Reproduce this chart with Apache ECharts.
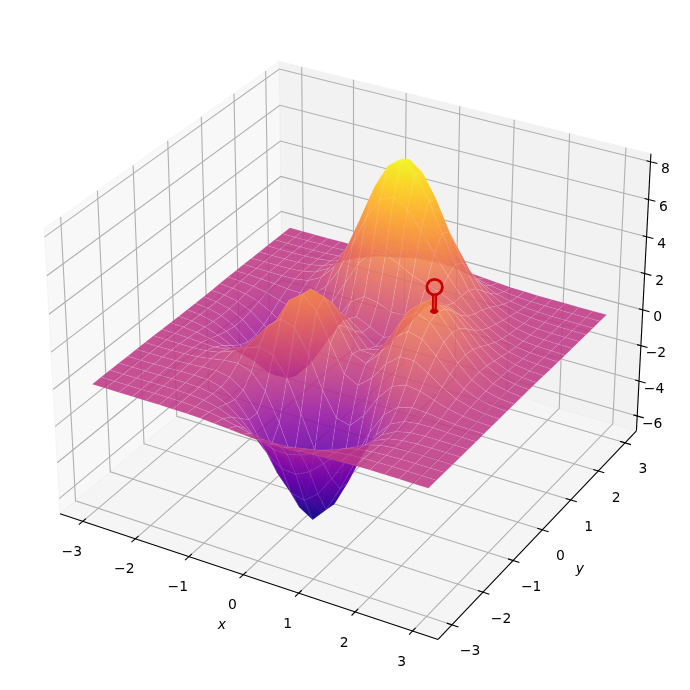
<!DOCTYPE html>
<html>
<head>
<meta charset="utf-8">
<style>html,body{margin:0;padding:0;background:#fff}#c{width:690px;height:690px}</style>
<script src="https://cdn.jsdelivr.net/npm/echarts@6/dist/echarts.min.js"></script>
</head>
<body>
<div id="c"></div>
<script>
// ---- data ----
const xGrid = [-3,-2.75,-2.5,-2.25,-2,-1.75,-1.5,-1.25,-1,-0.75,-0.5,-0.25,0,0.25,0.5,0.75,1,1.25,1.5,1.75,2,2.25,2.5,2.75,3];
const yGrid = [-3,-2.75,-2.5,-2.25,-2,-1.75,-1.5,-1.25,-1,-0.75,-0.5,-0.25,0,0.25,0.5,0.75,1,1.25,1.5,1.75,2,2.25,2.5,2.75,3];
// surface height, one row per x value, one column per y value
const zByX = [
[0,0,0,0,0,0,0,0,-0.01,-0.02,-0.03,-0.03,-0.04,-0.04,-0.03,-0.02,-0.01,-0.01,0,0,0,0,0,0,0],
[0,0,0,0,0,0,0,-0.01,-0.03,-0.05,-0.08,-0.10,-0.11,-0.11,-0.09,-0.07,-0.04,-0.02,-0.01,0,0,0,0,0,0],
[0,0,0,0.01,0.01,0.01,0.01,-0.01,-0.06,-0.12,-0.20,-0.27,-0.30,-0.29,-0.25,-0.18,-0.11,-0.06,-0.02,0,0.01,0.01,0,0,0],
[0,0,0.01,0.01,0.02,0.03,0.03,-0.01,-0.10,-0.26,-0.44,-0.60,-0.69,-0.67,-0.57,-0.42,-0.25,-0.12,-0.03,0.01,0.02,0.02,0.01,0.01,0],
[0,0.01,0.02,0.03,0.05,0.07,0.08,0.03,-0.13,-0.42,-0.80,-1.14,-1.33,-1.32,-1.12,-0.82,-0.48,-0.20,-0.01,0.07,0.08,0.06,0.03,0.01,0.01],
[0.01,0.01,0.02,0.04,0.07,0.13,0.19,0.17,-0.04,-0.51,-1.16,-1.78,-2.14,-2.16,-1.85,-1.33,-0.74,-0.23,0.11,0.24,0.23,0.16,0.08,0.04,0.01],
[0,0.01,0,0.01,0.05,0.15,0.33,0.45,0.30,-0.28,-1.21,-2.16,-2.77,-2.87,-2.49,-1.76,-0.86,-0.05,0.48,0.65,0.55,0.36,0.19,0.08,0.03],
[-0.01,-0.03,-0.07,-0.12,-0.13,0.02,0.39,0.84,0.99,0.50,-0.59,-1.84,-2.71,-2.98,-2.64,-1.78,-0.60,0.55,1.27,1.43,1.16,0.74,0.39,0.17,0.06],
[-0.03,-0.10,-0.24,-0.44,-0.59,-0.46,0.15,1.11,1.86,1.78,0.80,-0.56,-1.65,-2.15,-2.00,-1.16,0.23,1.70,2.61,2.67,2.10,1.32,0.69,0.30,0.11],
[-0.08,-0.22,-0.53,-1.00,-1.45,-1.48,-0.68,0.88,2.45,3.09,2.49,1.23,0.06,-0.65,-0.76,-0.05,1.51,3.29,4.37,4.29,3.31,2.07,1.07,0.47,0.17],
[-0.14,-0.39,-0.92,-1.74,-2.64,-3.01,-2.18,-0.14,2.22,3.63,3.55,2.56,1.48,0.68,0.39,1.04,2.80,4.92,6.19,5.96,4.56,2.84,1.47,0.64,0.23],
[-0.20,-0.56,-1.31,-2.51,-3.88,-4.70,-4.07,-1.85,1.00,2.94,3.30,2.63,1.75,1.06,0.80,1.55,3.59,6.07,7.54,7.22,5.51,3.43,1.77,0.77,0.28],
[-0.25,-0.68,-1.57,-3.02,-4.76,-5.98,-5.68,-3.61,-0.73,1.40,2.00,1.59,0.98,0.52,0.46,1.42,3.69,6.39,8.10,7.75,5.86,3.65,1.89,0.82,0.30],
[-0.25,-0.69,-1.61,-3.10,-4.93,-6.45,-6.45,-4.61,-2.02,-0.01,0.70,0.53,0.19,-0.03,0.09,1.12,3.34,5.94,7.48,7.20,5.50,3.43,1.77,0.77,0.28],
[-0.22,-0.61,-1.41,-2.72,-4.35,-5.64,-5.76,-4.40,-2.22,-0.41,0.39,0.48,0.38,0.28,0.38,1.17,2.94,5.02,6.25,5.99,4.57,2.84,1.47,0.64,0.23],
[-0.17,-0.46,-1.06,-2.05,-3.27,-4.24,-4.31,-3.23,-1.43,0.20,1.14,1.50,1.57,1.47,1.34,1.65,2.66,3.97,4.72,4.45,3.37,2.09,1.08,0.47,0.17],
[-0.11,-0.30,-0.69,-1.32,-2.10,-2.69,-2.63,-1.74,-0.27,1.18,2.20,2.76,2.94,2.76,2.38,2.17,2.43,2.97,3.25,2.96,2.21,1.36,0.70,0.30,0.11],
[-0.06,-0.17,-0.38,-0.73,-1.15,-1.42,-1.27,-0.56,0.58,1.79,2.76,3.37,3.58,3.36,2.83,2.32,2.08,2.09,2.05,1.78,1.29,0.79,0.40,0.17,0.06],
[-0.03,-0.08,-0.18,-0.35,-0.53,-0.61,-0.44,0.08,0.88,1.78,2.56,3.09,3.27,3.06,2.56,1.99,1.58,1.35,1.19,0.96,0.68,0.41,0.21,0.09,0.03],
[-0.01,-0.03,-0.08,-0.14,-0.20,-0.21,-0.07,0.27,0.77,1.35,1.88,2.25,2.37,2.22,1.85,1.40,1.04,0.79,0.62,0.47,0.32,0.19,0.09,0.04,0.01],
[0,-0.01,-0.03,-0.05,-0.06,-0.04,0.04,0.23,0.50,0.82,1.12,1.34,1.41,1.32,1.09,0.82,0.58,0.41,0.29,0.21,0.13,0.08,0.04,0.02,0.01],
[0,0,-0.01,-0.01,-0.01,0,0.05,0.13,0.26,0.41,0.56,0.67,0.70,0.66,0.54,0.41,0.28,0.19,0.12,0.08,0.05,0.03,0.01,0.01,0],
[0,0,0,0,0,0.01,0.03,0.06,0.11,0.18,0.24,0.28,0.30,0.28,0.23,0.17,0.12,0.07,0.05,0.03,0.02,0.01,0,0,0],
[0,0,0,0,0,0,0.01,0.02,0.04,0.06,0.09,0.10,0.11,0.10,0.08,0.06,0.04,0.03,0.02,0.01,0.01,0,0,0,0],
[0,0,0,0,0,0,0,0.01,0.01,0.02,0.03,0.03,0.03,0.03,0.03,0.02,0.01,0.01,0,0,0,0,0,0,0]
];
const xTicks = [-3,-2,-1,0,1,2,3];
const yTicks = [-3,-2,-1,0,1,2,3];
const zTicks = [-6,-4,-2,0,2,4,6,8];
const xLimits = [-3.3,3.3];
const yLimits = [-3.3,3.3];
const zLimits = [-6.55,8.11];
const keyX = [1.41];
const keyY = [0.05];
const keyZ = [3.15,4.43];
const axisNames = ['x','y'];

// ---- view ----
const DIST = 10, ASPECT = [1.31,1.31,0.982];
const CX = 354.3, CY = 334.5, SCALE = 3170;
const U = [0.8660254,0.5,0], V = [-0.25,0.4330127,0.8660254], W = [0.4330127,-0.75,0.5];
const dot = (a,b)=>a[0]*b[0]+a[1]*b[1]+a[2]*b[2];
function rel(x,y,z){
  return [((x-xLimits[0])/(xLimits[1]-xLimits[0])-0.5)*ASPECT[0],
          ((y-yLimits[0])/(yLimits[1]-yLimits[0])-0.5)*ASPECT[1],
          ((z-zLimits[0])/(zLimits[1]-zLimits[0])-0.5)*ASPECT[2]];
}
function project(x,y,z){
  const d = rel(x,y,z), k = DIST-dot(d,W);
  return [CX+SCALE*dot(d,U)/k, CY-SCALE*dot(d,V)/k];
}
const depth = (x,y,z)=>DIST-dot(rel(x,y,z),W);
const pad = a=>(a[1]-a[0])/48;
const bx = [xLimits[0]-pad(xLimits),xLimits[1]+pad(xLimits)];
const by = [yLimits[0]-pad(yLimits),yLimits[1]+pad(yLimits)];
const bz = [zLimits[0]-pad(zLimits),zLimits[1]+pad(zLimits)];

const plasma = ['#0d0887','#41049d','#6a00a8','#8f0da4','#b12a90','#cc4778','#e16462','#f2844b','#fca636','#fcce25','#f0f921'];
function hex(c){return [1,3,5].map(i=>parseInt(c.substr(i,2),16));}
function cmap(z){
  let t=(z-zLimits[0])/(zLimits[1]-zLimits[0]); t=Math.max(0,Math.min(1,t))*10;
  const i=Math.min(9,Math.floor(t)),f=t-i,a=hex(plasma[i]),b=hex(plasma[i+1]);
  return `rgb(${a.map((v,k)=>Math.round(v+(b[k]-v)*f)).join(',')})`;
}
// colour of one cell: follows the height across the cell on screen
function cellFill(pts,zs){
  const zc=(zs[0]+zs[1]+zs[2]+zs[3])/4;
  const pc=[0,1].map(k=>(pts[0][k]+pts[1][k]+pts[2][k]+pts[3][k])/4);
  const d1=[pts[2][0]-pts[0][0],pts[2][1]-pts[0][1]], d2=[pts[3][0]-pts[1][0],pts[3][1]-pts[1][1]];
  const dz1=zs[2]-zs[0], dz2=zs[3]-zs[1], det=d1[0]*d2[1]-d1[1]*d2[0];
  if(Math.abs(det)<6) return cmap(zc);
  const g=[(dz1*d2[1]-dz2*d1[1])/det,(d1[0]*dz2-d2[0]*dz1)/det], n=Math.hypot(g[0],g[1]);
  if(n<1e-4) return cmap(zc);
  const zLo=Math.min(...zs), zHi=Math.max(...zs);
  const ext=Math.max((zHi-zc),(zc-zLo))/n;
  const dir=[g[0]/n,g[1]/n];
  const colorStops=[0,0.2,0.4,0.6,0.8,1].map(o=>({offset:o,color:cmap(zc-ext*n+2*ext*n*o)}));
  return {type:'linear',global:true,x:pc[0]-dir[0]*ext,y:pc[1]-dir[1]*ext,x2:pc[0]+dir[0]*ext,y2:pc[1]+dir[1]*ext,colorStops};
}

// ---- shapes built from the arrays ----
const panes = [
 {pts:[[bx[0],by[0],bz[0]],[bx[0],by[1],bz[0]],[bx[0],by[1],bz[1]],[bx[0],by[0],bz[1]]],fill:'rgba(242,242,242,0.5)'},
 {pts:[[bx[0],by[1],bz[0]],[bx[1],by[1],bz[0]],[bx[1],by[1],bz[1]],[bx[0],by[1],bz[1]]],fill:'rgba(230,230,230,0.5)'},
 {pts:[[bx[0],by[0],bz[0]],[bx[1],by[0],bz[0]],[bx[1],by[1],bz[0]],[bx[0],by[1],bz[0]]],fill:'rgba(236,236,236,0.5)'}
];
const gridLines = [];
xTicks.forEach(t=>gridLines.push([[t,by[0],bz[0]],[t,by[1],bz[0]],[t,by[1],bz[1]]]));
yTicks.forEach(t=>gridLines.push([[bx[1],t,bz[0]],[bx[0],t,bz[0]],[bx[0],t,bz[1]]]));
zTicks.forEach(t=>gridLines.push([[bx[0],by[0],t],[bx[0],by[1],t],[bx[1],by[1],t]]));
const inkLines = [
 [[bx[0],by[0],bz[0]],[bx[1],by[0],bz[0]]],
 [[bx[1],by[0],bz[0]],[bx[1],by[1],bz[0]]],
 [[bx[1],by[1],bz[0]],[bx[1],by[1],bz[1]]]
];
xTicks.forEach(t=>inkLines.push([[t,by[0]-0.11,bz[0]],[t,by[0]+0.09,bz[0]]]));
yTicks.forEach(t=>inkLines.push([[bx[1]+0.11,t,bz[0]],[bx[1]-0.09,t,bz[0]]]));
zTicks.forEach(t=>inkLines.push([[bx[1]+0.12,by[1],t],[bx[1]-0.07,by[1],t]]));
const fmt = v=>String(v).replace('-','\u2212');
const texts = [];
xTicks.forEach(t=>{const p=project(t,by[0],bz[0]);texts.push({p:[p[0]-11,p[1]+31],s:fmt(t)});});
yTicks.forEach(t=>{const p=project(bx[1],t,bz[0]);texts.push({p:[p[0]+18,p[1]+27],s:fmt(t)});});
zTicks.forEach(t=>{const p=project(bx[1],by[1],t);texts.push({p:[p[0]+15,p[1]+8],s:fmt(t)});});
const px0=project(0.1,by[0],bz[0]), py0=project(bx[1],0.4,bz[0]);
texts.push({p:[px0[0]-27,px0[1]+49],s:axisNames[0],it:true});
texts.push({p:[py0[0]+26,py0[1]+52],s:axisNames[1],it:true});

const cells=[];
for(let i=0;i<xGrid.length-1;i++)for(let j=0;j<yGrid.length-1;j++){
  const zm=(zByX[i][j]+zByX[i+1][j]+zByX[i][j+1]+zByX[i+1][j+1])/4;
  cells.push([i,j,zm,depth((xGrid[i]+xGrid[i+1])/2,(yGrid[j]+yGrid[j+1])/2,zm)]);
}
cells.sort((a,b)=>b[3]-a[3]);

function layer(data,z,render){
  return {type:'custom',coordinateSystem:'cartesian2d',data,z,silent:true,clip:false,animation:false,progressive:0,renderItem:render};
}
const idx = a=>a.map((_,i)=>[i,0]);
const scr = (api,p)=>api.coord(p);
const chart = echarts.init(document.getElementById('c'),null,{renderer:'canvas'});
chart.setOption({
  animation:false,
  backgroundColor:'#fff',
  grid:{left:0,right:0,top:0,bottom:0},
  xAxis:{type:'value',min:0,max:690,show:false},
  yAxis:{type:'value',min:0,max:690,inverse:true,show:false},
  tooltip:{show:false},
  series:[
    layer(idx(panes),1,(p,api)=>{const d=panes[api.value(0)];
      return {type:'polygon',shape:{points:d.pts.map(q=>scr(api,project(...q)))},style:{fill:d.fill,stroke:'rgba(236,236,236,0.6)',lineWidth:0.8}};}),
    layer(idx(gridLines),2,(p,api)=>({type:'polyline',shape:{points:gridLines[api.value(0)].map(q=>scr(api,project(...q)))},style:{fill:'none',stroke:'#b0b0b0',lineWidth:1.1}})),
    layer(idx(inkLines),3,(p,api)=>({type:'polyline',shape:{points:inkLines[api.value(0)].map(q=>scr(api,project(...q)))},style:{fill:'none',stroke:'#000',lineWidth:1.1}})),
    layer(cells,4,(p,api)=>{const i=api.value(0),j=api.value(1);
      const c=[[i,j],[i+1,j],[i+1,j+1],[i,j+1]];
      const pts=c.map(q=>scr(api,project(xGrid[q[0]],yGrid[q[1]],zByX[q[0]][q[1]])));
      const zs=c.map(q=>zByX[q[0]][q[1]]);
      return {type:'polygon',shape:{points:pts},style:{fill:cellFill(pts,zs),opacity:0.87,stroke:'rgba(255,255,255,0.2)',lineWidth:0.5}};}),
    layer([[0,0]],5,(p,api)=>{
      const b=scr(api,project(keyX[0],keyY[0],keyZ[0])), t=scr(api,project(keyX[0],keyY[0],keyZ[1]));
      const r=7.8, s=[t[0],t[1]+r];
      return {type:'group',children:[
        {type:'line',shape:{x1:b[0],y1:b[1],x2:s[0],y2:s[1]},style:{stroke:'#c40000',lineWidth:5}},
        {type:'line',shape:{x1:b[0],y1:b[1],x2:s[0],y2:s[1]},style:{stroke:'#ee3030',lineWidth:1.4}},
        {type:'ellipse',shape:{cx:b[0],cy:b[1],rx:4.2,ry:2.6},style:{fill:'#c00000'}},
        {type:'circle',shape:{cx:t[0],cy:t[1],r},style:{fill:'none',stroke:'#c80000',lineWidth:2.8}}
      ]};}),
    layer(idx(texts),6,(p,api)=>{const d=texts[api.value(0)],q=scr(api,d.p);
      return {type:'text',style:{x:q[0],y:q[1],text:d.s,fill:'#000',align:'center',verticalAlign:'middle',
        font:(d.it?'italic ':'')+'13.9px "DejaVu Sans"'}};})
  ]
});
</script>
</body>
</html>
